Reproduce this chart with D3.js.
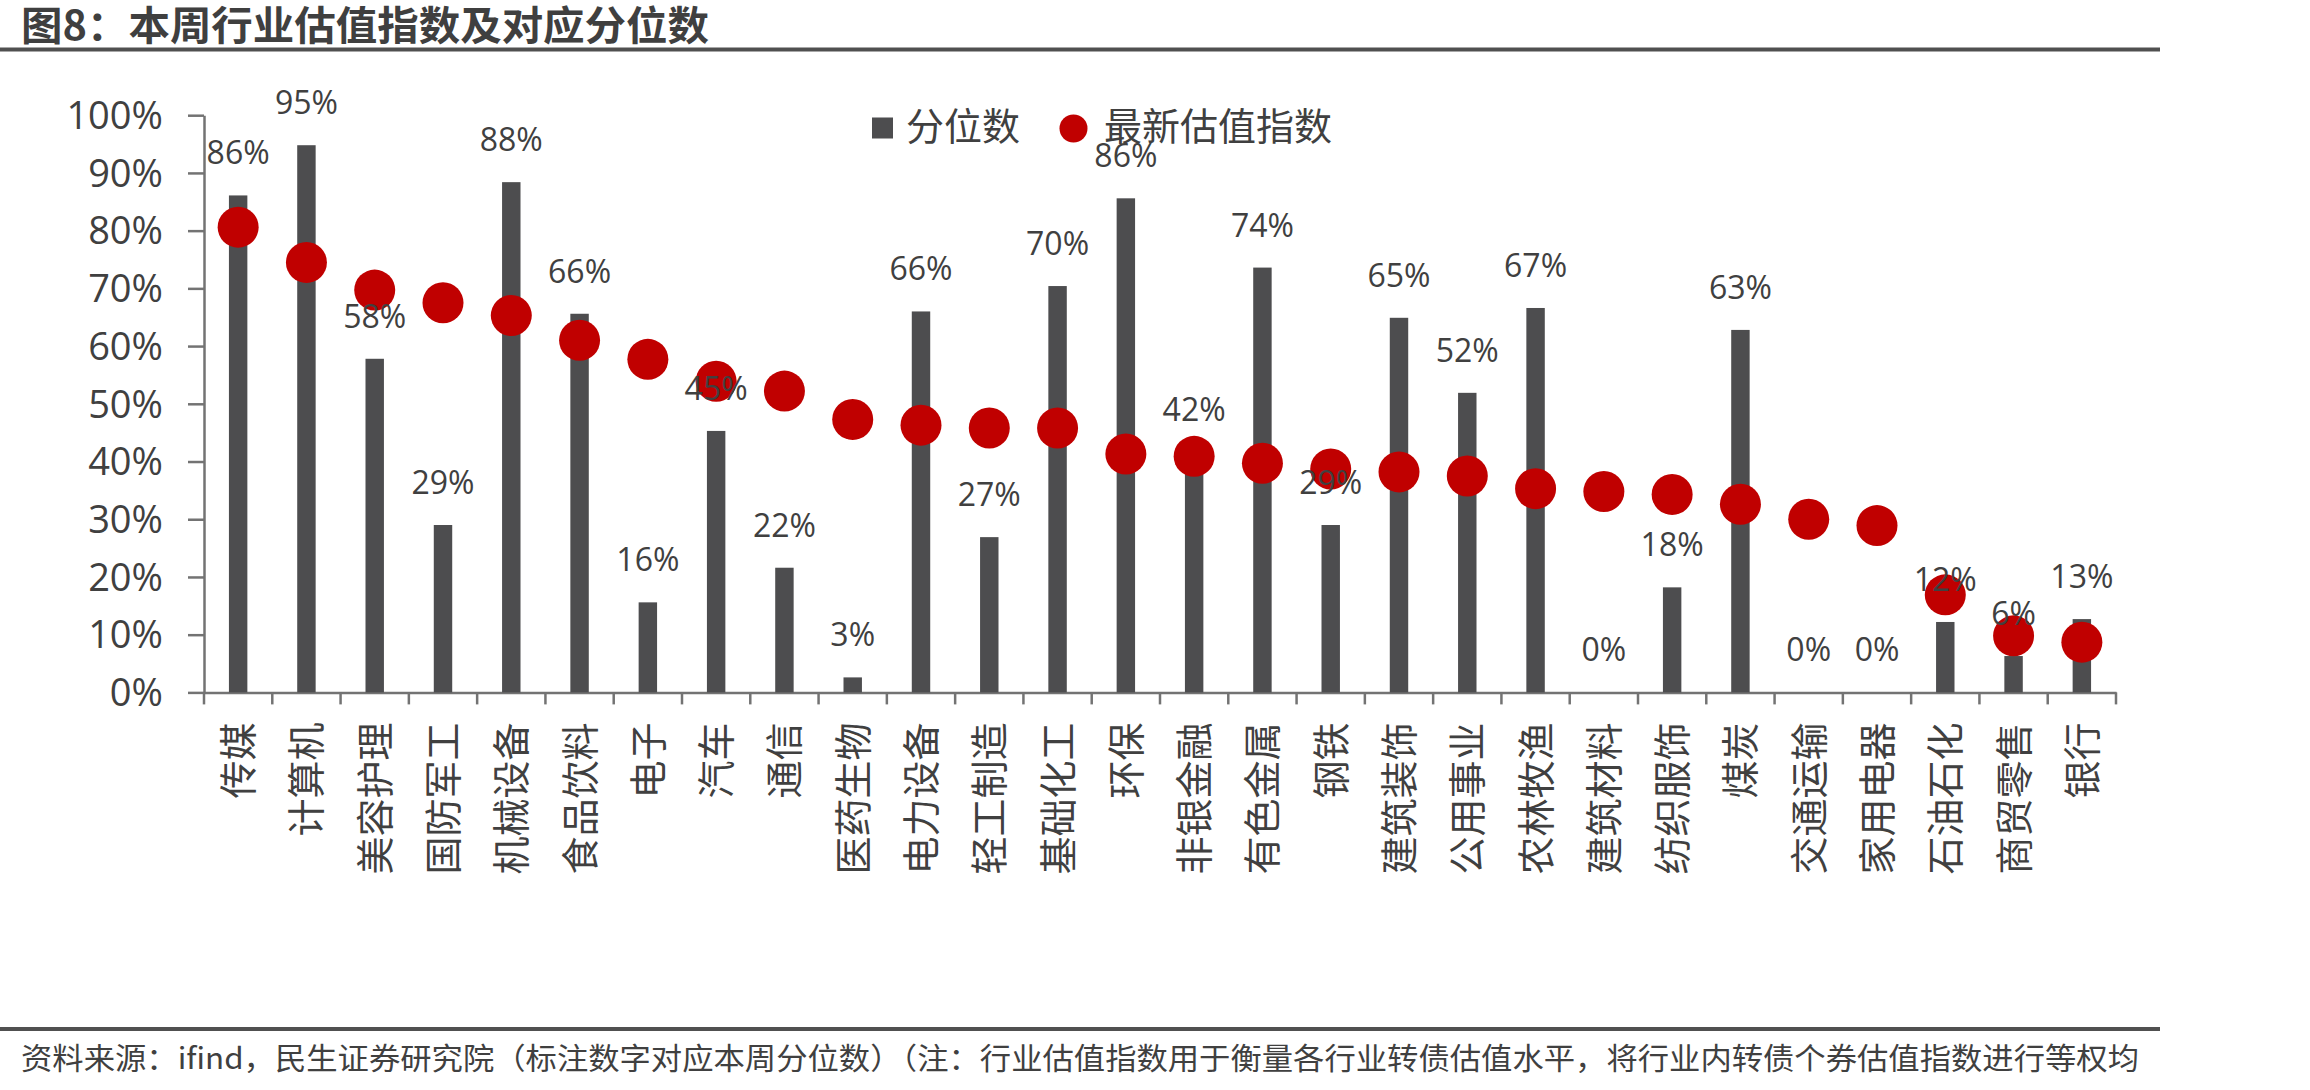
<!DOCTYPE html>
<html>
<head>
<meta charset="utf-8">
<script src="https://cdn.jsdelivr.net/npm/d3@7"></script>
<style>
	body { margin: 0; background: #fff; }
	svg { display: block; }
</style>
</head>
<body>
<svg id="chart" width="2310" height="1090"></svg>
<script>
// chart data
const categories = ["传媒", "计算机", "美容护理", "国防军工", "机械设备", "食品饮料", "电子", "汽车", "通信", "医药生物",
	"电力设备", "轻工制造", "基础化工", "环保", "非银金融", "有色金属", "钢铁", "建筑装饰", "公用事业", "农林牧渔",
	"建筑材料", "纺织服饰", "煤炭", "交通运输", "家用电器", "石油石化", "商贸零售", "银行"];

// 分位数 (%)
const percentile = [86.1, 94.8, 57.8, 29.0, 88.4, 65.6, 15.6, 45.3, 21.6, 2.6,
	66.0, 26.9, 70.4, 85.6, 41.7, 73.6, 29.0, 64.9, 51.9, 66.6,
	0, 18.2, 62.8, 0, 0, 12.2, 6.3, 12.7];

// 最新估值指数 (%)
const latestIndex = [80.6, 74.5, 69.7, 67.5, 65.3, 61.0, 57.7, 53.9, 52.2, 47.3,
	46.3, 45.8, 45.8, 41.3, 40.9, 39.7, 38.7, 38.2, 37.5, 35.3,
	34.8, 34.3, 32.6, 30.0, 28.9, 16.9, 9.8, 8.7];

const yTicks = [0, 10, 20, 30, 40, 50, 60, 70, 80, 90, 100];

const titleText = "图8：本周行业估值指数及对应分位数";
const sourceText = "资料来源：ifind，民生证券研究院（标注数字对应本周分位数）（注：行业估值指数用于衡量各行业转债估值水平，将行业内转债个券估值指数进行等权均";
const seriesNames = ["分位数", "最新估值指数"];

const barColor = "#4d4d4f";
const dotColor = "#c00000";
const textColor = "#404040";
const axisColor = "#737373";
const cjk = "'Noto Sans CJK SC', 'Microsoft YaHei', sans-serif";
const latin = "'Open Sans', 'Noto Sans CJK SC', sans-serif";

// plot area
const plot = { left: 204, right: 2116, top: 115.2, bottom: 692.4 };

const svg = d3.select("#chart");

// title + rules
svg.append("text")
	.attr("x", 21)
	.attr("y", 40)
	.attr("textLength", 688)
	.attr("lengthAdjust", "spacingAndGlyphs")
	.style("font-family", cjk)
	.style("font-weight", "bold")
	.style("font-size", "40px")
	.attr("fill", "#3f3f3f")
	.text(titleText);

svg.append("rect")
	.attr("x", 0).attr("y", 47.5)
	.attr("width", 2160).attr("height", 4)
	.attr("fill", "#505050");

svg.append("rect")
	.attr("x", 0).attr("y", 1027)
	.attr("width", 2160).attr("height", 4)
	.attr("fill", "#505050");

svg.append("text")
	.attr("x", 21)
	.attr("y", 1069)
	.attr("textLength", 2118)
	.attr("lengthAdjust", "spacingAndGlyphs")
	.style("font-family", cjk)
	.style("font-size", "30px")
	.attr("fill", textColor)
	.text(sourceText);

// scales
const x = d3.scaleBand()
	.domain(categories)
	.range([plot.left, plot.right])
	.paddingInner(0.73)
	.paddingOuter(0.365);

const xCell = d3.scaleBand()
	.domain(categories)
	.range([plot.left, plot.right])
	.padding(0);

const y = d3.scaleLinear()
	.domain([0, 100])
	.range([plot.bottom, plot.top]);

const center = d => x(d) + x.bandwidth() / 2;

// y axis
const yAxis = svg.append("g")
	.attr("transform", "translate(" + plot.left + ",0)")
	.call(d3.axisLeft(y)
		.tickValues(yTicks)
		.tickFormat(d => d + "%")
		.tickSize(16)
		.tickSizeOuter(0)
		.tickPadding(25));

yAxis.selectAll("path, line")
	.attr("stroke", axisColor)
	.attr("stroke-width", 2.5);

yAxis.selectAll("text")
	.attr("dy", "0.35em")
	.style("font-family", latin)
	.style("font-size", "38px")
	.attr("fill", textColor);

// x axis
const xAxis = svg.append("g")
	.attr("transform", "translate(0," + plot.bottom + ")")
	.call(d3.axisBottom(xCell).tickSize(0).tickSizeOuter(0).tickFormat(""));

xAxis.select("path")
	.attr("stroke", axisColor)
	.attr("stroke-width", 2.5);

const bounds = categories.map(d => xCell(d)).concat([xCell.range()[1]]);

xAxis.selectAll(".cell-tick")
	.data(bounds)
	.enter()
	.append("line")
	.attr("class", "cell-tick")
	.attr("x1", d => d).attr("x2", d => d)
	.attr("y1", 0).attr("y2", 12)
	.attr("stroke", axisColor)
	.attr("stroke-width", 2.5);

// category labels, rotated
svg.append("g")
	.selectAll("text")
	.data(categories)
	.enter()
	.append("text")
	.attr("transform", d => "translate(" + center(d) + "," + (plot.bottom + 30) + ") rotate(-90)")
	.attr("text-anchor", "end")
	.attr("dy", "0.37em")
	.style("font-family", cjk)
	.style("font-size", "38px")
	.attr("fill", textColor)
	.text(d => d);

// bars
svg.append("g")
	.selectAll("rect")
	.data(categories)
	.enter()
	.append("rect")
	.attr("x", d => x(d))
	.attr("y", (d, i) => y(percentile[i]))
	.attr("width", x.bandwidth())
	.attr("height", (d, i) => y(0) - y(percentile[i]))
	.attr("fill", barColor);

// dots
svg.append("g")
	.selectAll("circle")
	.data(categories)
	.enter()
	.append("circle")
	.attr("cx", d => center(d))
	.attr("cy", (d, i) => y(latestIndex[i]))
	.attr("r", 20.5)
	.attr("fill", dotColor);

// bar labels
svg.append("g")
	.selectAll("text")
	.data(categories)
	.enter()
	.append("text")
	.attr("x", d => center(d))
	.attr("y", (d, i) => y(percentile[i]) - 31)
	.attr("text-anchor", "middle")
	.style("font-family", latin)
	.style("font-size", "32px")
	.attr("fill", textColor)
	.text((d, i) => Math.round(percentile[i]) + "%");

// legend
const legend = svg.append("g");

legend.append("rect")
	.attr("x", 872).attr("y", 117.5)
	.attr("width", 21).attr("height", 21)
	.attr("fill", barColor);

legend.append("text")
	.attr("x", 906).attr("y", 140)
	.style("font-family", cjk)
	.style("font-size", "38px")
	.attr("fill", textColor)
	.text(seriesNames[0]);

legend.append("circle")
	.attr("cx", 1073.5).attr("cy", 128.5)
	.attr("r", 14)
	.attr("fill", dotColor);

legend.append("text")
	.attr("x", 1104).attr("y", 140)
	.style("font-family", cjk)
	.style("font-size", "38px")
	.attr("fill", textColor)
	.text(seriesNames[1]);
</script>
</body>
</html>
